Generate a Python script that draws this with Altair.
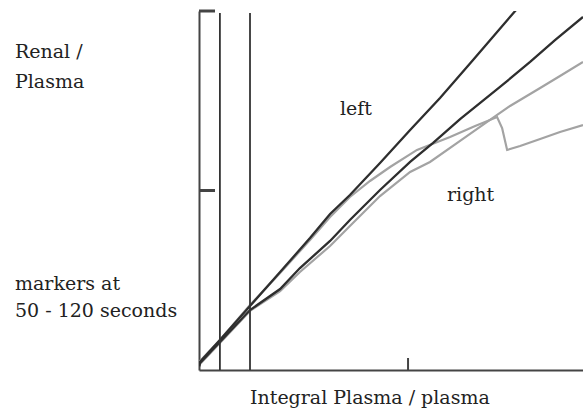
import altair as alt
import pandas as pd

# ---- data ----
left_x = [0.0, 0.005, 0.100, 0.244, 0.388, 0.531, 0.627, 0.722, 0.866, 1.010, 1.153, 1.311, 1.517]
left_y = [0.02, 0.045, 0.167, 0.357, 0.546, 0.735, 0.869, 0.975, 1.153, 1.337, 1.515, 1.727, 2.006]

right_x = [0.0, 0.005, 0.100, 0.244, 0.388, 0.483, 0.627, 0.722, 0.866, 1.010, 1.120, 1.249, 1.440, 1.584, 1.703, 1.837]
right_y = [0.02, 0.039, 0.156, 0.334, 0.451, 0.568, 0.719, 0.836, 1.003, 1.159, 1.265, 1.398, 1.577, 1.716, 1.838, 1.967]

grayA_x = [0.0, 0.005, 0.100, 0.244, 0.388, 0.531, 0.627, 0.722, 0.818, 0.914, 1.043, 1.201, 1.321, 1.426, 1.450, 1.474, 1.536, 1.632, 1.727, 1.837]
grayA_y = [0.02, 0.050, 0.167, 0.362, 0.540, 0.724, 0.852, 0.964, 1.053, 1.131, 1.226, 1.298, 1.359, 1.409, 1.348, 1.226, 1.248, 1.287, 1.326, 1.365]

grayB_x = [0.0, 0.005, 0.100, 0.244, 0.388, 0.483, 0.627, 0.722, 0.866, 1.010, 1.105, 1.249, 1.392, 1.488, 1.632, 1.727, 1.837]
grayB_y = [0.02, 0.033, 0.150, 0.329, 0.440, 0.546, 0.691, 0.802, 0.969, 1.103, 1.159, 1.276, 1.393, 1.471, 1.571, 1.638, 1.716]

marker_x = [0.100, 0.244]          # markers at 50 and 120 seconds
y_ticks = [1, 2]
x_ticks = [1]

X_DOMAIN = [0, 1.837]
Y_DOMAIN = [0, 2]

# ---- tables ----
def series(name, xs, ys):
    return pd.DataFrame({"x": xs, "y": ys, "s": name, "i": range(len(xs))})

dark = pd.concat([series("left", left_x, left_y), series("right", right_x, right_y)])
gray = pd.concat([series("grayA", grayA_x, grayA_y), series("grayB", grayB_x, grayB_y)])

W, H = 384, 359
FONT = "DejaVu Serif"
FS = 19
TXT = "#222222"

xs = alt.Scale(domain=X_DOMAIN, nice=False, zero=False)
ys = alt.Scale(domain=Y_DOMAIN, nice=False, zero=False)
ax_common = dict(domain=True, ticks=False, labels=False, title=None, grid=False,
                 domainColor="#444444", domainWidth=2)

gray_layer = alt.Chart(gray).mark_line(color="#a3a3a3", strokeWidth=2.2, clip=True).encode(
    x=alt.X("x:Q", scale=xs, axis=alt.Axis(**ax_common)),
    y=alt.Y("y:Q", scale=ys, axis=alt.Axis(**ax_common)),
    detail="s:N",
    order="i:Q",
)

dark_layer = alt.Chart(dark).mark_line(color="#2e2e2e", strokeWidth=2.3, clip=True).encode(
    x=alt.X("x:Q", scale=xs),
    y=alt.Y("y:Q", scale=ys),
    detail="s:N",
    order="i:Q",
)

markers = alt.Chart(pd.DataFrame({"x": marker_x})).mark_rule(color="#333333", strokeWidth=1.8).encode(
    x=alt.X("x:Q", scale=xs),
    y=alt.value(2),
    y2=alt.value(H),
)

yt = alt.Chart(pd.DataFrame({"y": y_ticks})).mark_rule(color="#444444", strokeWidth=3).encode(
    y=alt.Y("y:Q", scale=ys),
    x=alt.value(0),
    x2=alt.value(16),
)

xt = alt.Chart(pd.DataFrame({"x": x_ticks})).mark_rule(color="#444444", strokeWidth=2).encode(
    x=alt.X("x:Q", scale=xs),
    y=alt.value(H - 12),
    y2=alt.value(H),
)

def label(text, px, py):
    return alt.Chart(pd.DataFrame({"t": [text]})).mark_text(
        font=FONT, fontSize=FS, color=TXT, align="left", baseline="alphabetic"
    ).encode(text="t:N", x=alt.value(px), y=alt.value(py))

texts = [
    label("Renal /", -184, 47),
    label("Plasma", -184, 77),
    label("markers at", -184, 279),
    label("50 - 120 seconds", -184, 306),
    label("Integral Plasma / plasma", 51, 393),
    label("left", 141, 104),
    label("right", 248, 190),
]

chart = alt.layer(gray_layer, dark_layer, markers, yt, xt, *texts).properties(
    width=W,
    height=H,
    autosize=alt.AutoSizeParams(type="none"),
    padding={"left": 199, "top": 11, "right": 0, "bottom": 40},
    background="white",
).configure(font=FONT).configure_text(font=FONT).configure_view(stroke=None)

chart.save("out.html", embed_options={"renderer": "svg", "actions": False})
